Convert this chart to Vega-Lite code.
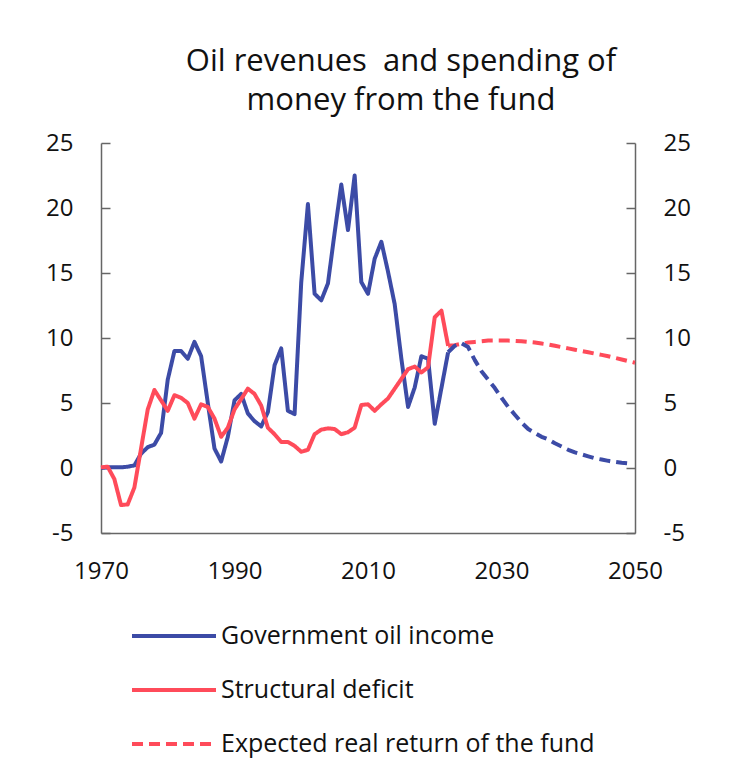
{
  "$schema": "https://vega.github.io/schema/vega-lite/v6.json",
  "width": 534,
  "height": 390,
  "autosize": {"type": "none"},
  "padding": {"left": 101, "top": 143, "right": 94, "bottom": 239},
  "background": "white",
  "config": {
    "font": "Open Sans",
    "view": {"stroke": null},
    "axis": {"grid": false, "domainColor": "#666666", "domainWidth": 1.5, "tickColor": "#666666", "tickWidth": 1.5, "labelColor": "#111111", "labelFontSize": 24, "title": null}
  },
  "title": {
    "text": ["Oil revenues\u00a0 and spending of", "money from the fund"],
    "fontSize": 31,
    "fontWeight": "normal",
    "color": "#111111",
    "lineHeight": 39,
    "anchor": "middle",
    "frame": "group",
    "dx": 33,
    "offset": 14
  },
  "datasets": {
    "series": [
      {"year": 1970, "value": 0.0, "series": "Government oil income"},
      {"year": 1971, "value": 0.05, "series": "Government oil income"},
      {"year": 1972, "value": 0.05, "series": "Government oil income"},
      {"year": 1973, "value": 0.05, "series": "Government oil income"},
      {"year": 1974, "value": 0.1, "series": "Government oil income"},
      {"year": 1975, "value": 0.2, "series": "Government oil income"},
      {"year": 1976, "value": 1.1, "series": "Government oil income"},
      {"year": 1977, "value": 1.6, "series": "Government oil income"},
      {"year": 1978, "value": 1.8, "series": "Government oil income"},
      {"year": 1979, "value": 2.7, "series": "Government oil income"},
      {"year": 1980, "value": 6.8, "series": "Government oil income"},
      {"year": 1981, "value": 9.0, "series": "Government oil income"},
      {"year": 1982, "value": 9.0, "series": "Government oil income"},
      {"year": 1983, "value": 8.4, "series": "Government oil income"},
      {"year": 1984, "value": 9.7, "series": "Government oil income"},
      {"year": 1985, "value": 8.6, "series": "Government oil income"},
      {"year": 1986, "value": 5.0, "series": "Government oil income"},
      {"year": 1987, "value": 1.5, "series": "Government oil income"},
      {"year": 1988, "value": 0.5, "series": "Government oil income"},
      {"year": 1989, "value": 2.4, "series": "Government oil income"},
      {"year": 1990, "value": 5.2, "series": "Government oil income"},
      {"year": 1991, "value": 5.7, "series": "Government oil income"},
      {"year": 1992, "value": 4.2, "series": "Government oil income"},
      {"year": 1993, "value": 3.6, "series": "Government oil income"},
      {"year": 1994, "value": 3.2, "series": "Government oil income"},
      {"year": 1995, "value": 4.3, "series": "Government oil income"},
      {"year": 1996, "value": 7.9, "series": "Government oil income"},
      {"year": 1997, "value": 9.2, "series": "Government oil income"},
      {"year": 1998, "value": 4.4, "series": "Government oil income"},
      {"year": 1999, "value": 4.15, "series": "Government oil income"},
      {"year": 2000, "value": 14.3, "series": "Government oil income"},
      {"year": 2001, "value": 20.3, "series": "Government oil income"},
      {"year": 2002, "value": 13.4, "series": "Government oil income"},
      {"year": 2003, "value": 12.9, "series": "Government oil income"},
      {"year": 2004, "value": 14.2, "series": "Government oil income"},
      {"year": 2005, "value": 18.1, "series": "Government oil income"},
      {"year": 2006, "value": 21.8, "series": "Government oil income"},
      {"year": 2007, "value": 18.3, "series": "Government oil income"},
      {"year": 2008, "value": 22.5, "series": "Government oil income"},
      {"year": 2009, "value": 14.3, "series": "Government oil income"},
      {"year": 2010, "value": 13.4, "series": "Government oil income"},
      {"year": 2011, "value": 16.1, "series": "Government oil income"},
      {"year": 2012, "value": 17.4, "series": "Government oil income"},
      {"year": 2013, "value": 15.1, "series": "Government oil income"},
      {"year": 2014, "value": 12.6, "series": "Government oil income"},
      {"year": 2015, "value": 8.4, "series": "Government oil income"},
      {"year": 2016, "value": 4.7, "series": "Government oil income"},
      {"year": 2017, "value": 6.2, "series": "Government oil income"},
      {"year": 2018, "value": 8.6, "series": "Government oil income"},
      {"year": 2019, "value": 8.4, "series": "Government oil income"},
      {"year": 2020, "value": 3.4, "series": "Government oil income"},
      {"year": 2021, "value": 6.15, "series": "Government oil income"},
      {"year": 2022, "value": 8.9, "series": "Government oil income"},

      {"year": 1970, "value": 0.05, "series": "Structural deficit"},
      {"year": 1971, "value": 0.1, "series": "Structural deficit"},
      {"year": 1972, "value": -0.85, "series": "Structural deficit"},
      {"year": 1973, "value": -2.85, "series": "Structural deficit"},
      {"year": 1974, "value": -2.8, "series": "Structural deficit"},
      {"year": 1975, "value": -1.5, "series": "Structural deficit"},
      {"year": 1976, "value": 1.5, "series": "Structural deficit"},
      {"year": 1977, "value": 4.5, "series": "Structural deficit"},
      {"year": 1978, "value": 6.0, "series": "Structural deficit"},
      {"year": 1979, "value": 5.2, "series": "Structural deficit"},
      {"year": 1980, "value": 4.4, "series": "Structural deficit"},
      {"year": 1981, "value": 5.6, "series": "Structural deficit"},
      {"year": 1982, "value": 5.4, "series": "Structural deficit"},
      {"year": 1983, "value": 5.0, "series": "Structural deficit"},
      {"year": 1984, "value": 3.8, "series": "Structural deficit"},
      {"year": 1985, "value": 4.9, "series": "Structural deficit"},
      {"year": 1986, "value": 4.7, "series": "Structural deficit"},
      {"year": 1987, "value": 3.8, "series": "Structural deficit"},
      {"year": 1988, "value": 2.4, "series": "Structural deficit"},
      {"year": 1989, "value": 3.1, "series": "Structural deficit"},
      {"year": 1990, "value": 4.5, "series": "Structural deficit"},
      {"year": 1991, "value": 5.3, "series": "Structural deficit"},
      {"year": 1992, "value": 6.1, "series": "Structural deficit"},
      {"year": 1993, "value": 5.7, "series": "Structural deficit"},
      {"year": 1994, "value": 4.8, "series": "Structural deficit"},
      {"year": 1995, "value": 3.1, "series": "Structural deficit"},
      {"year": 1996, "value": 2.6, "series": "Structural deficit"},
      {"year": 1997, "value": 2.0, "series": "Structural deficit"},
      {"year": 1998, "value": 2.0, "series": "Structural deficit"},
      {"year": 1999, "value": 1.7, "series": "Structural deficit"},
      {"year": 2000, "value": 1.25, "series": "Structural deficit"},
      {"year": 2001, "value": 1.4, "series": "Structural deficit"},
      {"year": 2002, "value": 2.6, "series": "Structural deficit"},
      {"year": 2003, "value": 2.95, "series": "Structural deficit"},
      {"year": 2004, "value": 3.05, "series": "Structural deficit"},
      {"year": 2005, "value": 3.0, "series": "Structural deficit"},
      {"year": 2006, "value": 2.6, "series": "Structural deficit"},
      {"year": 2007, "value": 2.75, "series": "Structural deficit"},
      {"year": 2008, "value": 3.1, "series": "Structural deficit"},
      {"year": 2009, "value": 4.85, "series": "Structural deficit"},
      {"year": 2010, "value": 4.9, "series": "Structural deficit"},
      {"year": 2011, "value": 4.4, "series": "Structural deficit"},
      {"year": 2012, "value": 4.9, "series": "Structural deficit"},
      {"year": 2013, "value": 5.35, "series": "Structural deficit"},
      {"year": 2014, "value": 6.1, "series": "Structural deficit"},
      {"year": 2015, "value": 6.85, "series": "Structural deficit"},
      {"year": 2016, "value": 7.6, "series": "Structural deficit"},
      {"year": 2017, "value": 7.8, "series": "Structural deficit"},
      {"year": 2018, "value": 7.35, "series": "Structural deficit"},
      {"year": 2019, "value": 7.75, "series": "Structural deficit"},
      {"year": 2020, "value": 11.6, "series": "Structural deficit"},
      {"year": 2021, "value": 12.1, "series": "Structural deficit"},
      {"year": 2022, "value": 9.4, "series": "Structural deficit"},

      {"year": 2022, "value": 9.4, "series": "Expected real return of the fund"},
      {"year": 2023, "value": 9.45, "series": "Expected real return of the fund"},
      {"year": 2024, "value": 9.55, "series": "Expected real return of the fund"},
      {"year": 2025, "value": 9.65, "series": "Expected real return of the fund"},
      {"year": 2026, "value": 9.7, "series": "Expected real return of the fund"},
      {"year": 2027, "value": 9.75, "series": "Expected real return of the fund"},
      {"year": 2028, "value": 9.8, "series": "Expected real return of the fund"},
      {"year": 2029, "value": 9.8, "series": "Expected real return of the fund"},
      {"year": 2030, "value": 9.8, "series": "Expected real return of the fund"},
      {"year": 2031, "value": 9.8, "series": "Expected real return of the fund"},
      {"year": 2032, "value": 9.78, "series": "Expected real return of the fund"},
      {"year": 2033, "value": 9.75, "series": "Expected real return of the fund"},
      {"year": 2034, "value": 9.7, "series": "Expected real return of the fund"},
      {"year": 2035, "value": 9.65, "series": "Expected real return of the fund"},
      {"year": 2036, "value": 9.57, "series": "Expected real return of the fund"},
      {"year": 2037, "value": 9.5, "series": "Expected real return of the fund"},
      {"year": 2038, "value": 9.4, "series": "Expected real return of the fund"},
      {"year": 2039, "value": 9.3, "series": "Expected real return of the fund"},
      {"year": 2040, "value": 9.2, "series": "Expected real return of the fund"},
      {"year": 2041, "value": 9.1, "series": "Expected real return of the fund"},
      {"year": 2042, "value": 9.0, "series": "Expected real return of the fund"},
      {"year": 2043, "value": 8.9, "series": "Expected real return of the fund"},
      {"year": 2044, "value": 8.8, "series": "Expected real return of the fund"},
      {"year": 2045, "value": 8.7, "series": "Expected real return of the fund"},
      {"year": 2046, "value": 8.6, "series": "Expected real return of the fund"},
      {"year": 2047, "value": 8.47, "series": "Expected real return of the fund"},
      {"year": 2048, "value": 8.35, "series": "Expected real return of the fund"},
      {"year": 2049, "value": 8.22, "series": "Expected real return of the fund"},
      {"year": 2050, "value": 8.1, "series": "Expected real return of the fund"},

      {"year": 2022, "value": 8.9, "series": "Projected oil income"},
      {"year": 2023, "value": 9.4, "series": "Projected oil income"},
      {"year": 2024, "value": 9.6, "series": "Projected oil income"},
      {"year": 2025, "value": 9.3, "series": "Projected oil income"},
      {"year": 2026, "value": 8.3, "series": "Projected oil income"},
      {"year": 2027, "value": 7.45, "series": "Projected oil income"},
      {"year": 2028, "value": 6.8, "series": "Projected oil income"},
      {"year": 2029, "value": 6.15, "series": "Projected oil income"},
      {"year": 2030, "value": 5.4, "series": "Projected oil income"},
      {"year": 2031, "value": 4.7, "series": "Projected oil income"},
      {"year": 2032, "value": 4.1, "series": "Projected oil income"},
      {"year": 2033, "value": 3.5, "series": "Projected oil income"},
      {"year": 2034, "value": 3.0, "series": "Projected oil income"},
      {"year": 2035, "value": 2.7, "series": "Projected oil income"},
      {"year": 2036, "value": 2.4, "series": "Projected oil income"},
      {"year": 2037, "value": 2.2, "series": "Projected oil income"},
      {"year": 2038, "value": 1.9, "series": "Projected oil income"},
      {"year": 2039, "value": 1.65, "series": "Projected oil income"},
      {"year": 2040, "value": 1.4, "series": "Projected oil income"},
      {"year": 2041, "value": 1.2, "series": "Projected oil income"},
      {"year": 2042, "value": 1.05, "series": "Projected oil income"},
      {"year": 2043, "value": 0.9, "series": "Projected oil income"},
      {"year": 2044, "value": 0.75, "series": "Projected oil income"},
      {"year": 2045, "value": 0.65, "series": "Projected oil income"},
      {"year": 2046, "value": 0.55, "series": "Projected oil income"},
      {"year": 2047, "value": 0.47, "series": "Projected oil income"},
      {"year": 2048, "value": 0.4, "series": "Projected oil income"},
      {"year": 2049, "value": 0.35, "series": "Projected oil income"}
    ]
  },
  "resolve": {"axis": {"y": "independent"}},
  "layer": [
    {
      "mark": {"type": "rule", "color": "#555555", "strokeWidth": 1.5},
      "encoding": {
        "y": {
          "datum": 0,
          "type": "quantitative",
          "scale": {"domain": [-5, 25], "nice": false},
          "axis": {"orient": "right", "values": [-5, 0, 5, 10, 15, 20, 25], "labelExpr": "'' + datum.value", "tickSize": -9, "labelPadding": 37, "labelAlign": "left", "labelBaseline": "middle"}
        }
      }
    },
    {
      "data": {"name": "series"},
      "mark": {"type": "line", "strokeWidth": 4, "strokeJoin": "round", "strokeCap": "butt"},
      "encoding": {
        "x": {
          "field": "year",
          "type": "quantitative",
          "scale": {"domain": [1970, 2050], "nice": false, "zero": false},
          "axis": {"values": [1970, 1990, 2010, 2030, 2050], "ticks": false, "labelPadding": 26, "format": "d", "labelFlush": false}
        },
        "y": {
          "field": "value",
          "type": "quantitative",
          "scale": {"domain": [-5, 25], "nice": false},
          "axis": {"orient": "left", "values": [-5, 0, 5, 10, 15, 20, 25], "labelExpr": "'' + datum.value", "tickSize": -9, "labelPadding": 37, "labelBaseline": "middle"}
        },
        "color": {
          "field": "series",
          "type": "nominal",
          "scale": {
            "domain": ["Government oil income", "Structural deficit", "Expected real return of the fund", "Projected oil income"],
            "range": ["#3c4ba6", "#ff4b5a", "#ff4b5a", "#3c4ba6"]
          },
          "legend": {
            "values": ["Government oil income", "Structural deficit", "Expected real return of the fund"],
            "title": null,
            "orient": "none",
            "legendX": 60.5,
            "legendY": 480.5,
            "direction": "vertical",
            "symbolType": "M-4,0H4",
            "symbolSize": 441,
            "symbolStrokeWidth": 4,
            "labelFontSize": 25,
            "labelColor": "#111111",
            "labelOffset": 34.5,
            "labelLimit": 600,
            "rowPadding": 28
          }
        },
        "strokeDash": {
          "field": "series",
          "type": "nominal",
          "scale": {
            "domain": ["Government oil income", "Structural deficit", "Expected real return of the fund", "Projected oil income"],
            "range": [[1, 0], [1, 0], [11, 6], [11, 6]]
          },
          "legend": {
            "values": ["Government oil income", "Structural deficit", "Expected real return of the fund"],
            "title": null,
            "orient": "none",
            "legendX": 60.5,
            "legendY": 480.5,
            "direction": "vertical",
            "symbolType": "M-4,0H4",
            "symbolSize": 441,
            "symbolStrokeWidth": 4,
            "labelFontSize": 25,
            "labelColor": "#111111",
            "labelOffset": 34.5,
            "labelLimit": 600,
            "rowPadding": 28
          }
        }
      }
    }
  ]
}
